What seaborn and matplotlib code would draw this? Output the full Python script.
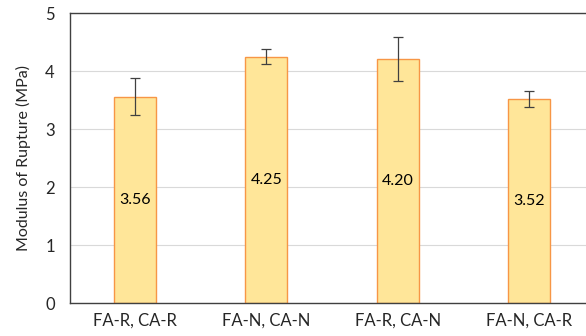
import matplotlib
matplotlib.use("Agg")
import matplotlib.pyplot as plt
import seaborn as sns
import pandas as pd

# data
mixes = ["FA-R, CA-R", "FA-N, CA-N", "FA-R, CA-N", "FA-N, CA-R"]
mor = [3.56, 4.25, 4.20, 3.52]
mor_err = [0.32, 0.13, 0.38, 0.14]

df = pd.DataFrame({"Mix": mixes, "MOR": mor})

sns.set_style("white")
plt.rcParams["font.family"] = ["Lato", "DejaVu Sans"]

fig = plt.figure(figsize=(5.86, 3.36), dpi=100)
ax = fig.add_axes([70 / 586, 33 / 336, 516 / 586, 290 / 336])

sns.barplot(data=df, x="Mix", y="MOR", width=0.32, color="#FFE699",
            saturation=1, edgecolor="#F79646", linewidth=1.0, ax=ax, zorder=2)

xs = [p.get_x() + p.get_width() / 2 for p in ax.patches]
ax.errorbar(xs, mor, yerr=mor_err, fmt="none", ecolor="#404040",
            elinewidth=0.9, capsize=3.5, capthick=0.9, zorder=3)

for x, v in zip(xs, mor):
    ax.text(x, v / 2, f"{v:.2f}", ha="center", va="center",
            fontsize=11.5, color="black", zorder=4)

ax.set_ylim(0, 5)
ax.set_xlim(-0.494, 3.43)
ax.set_yticks([0, 1, 2, 3, 4, 5])
ax.yaxis.grid(True, color="#D9D9D9", linewidth=0.8, zorder=0)
ax.set_axisbelow(True)

ax.set_xlabel("")
ax.set_ylabel("Modulus of Rupture (MPa)", fontsize=11.5, color="#262626", labelpad=10)
ax.tick_params(axis="both", length=0, labelsize=12, colors="#262626", pad=7)
ax.tick_params(axis="y", pad=11)

for side in ["left", "top", "bottom"]:
    ax.spines[side].set_color("#404040")
    ax.spines[side].set_linewidth(1.0)
ax.spines["right"].set_visible(False)

fig.savefig("out.png", dpi=100)
